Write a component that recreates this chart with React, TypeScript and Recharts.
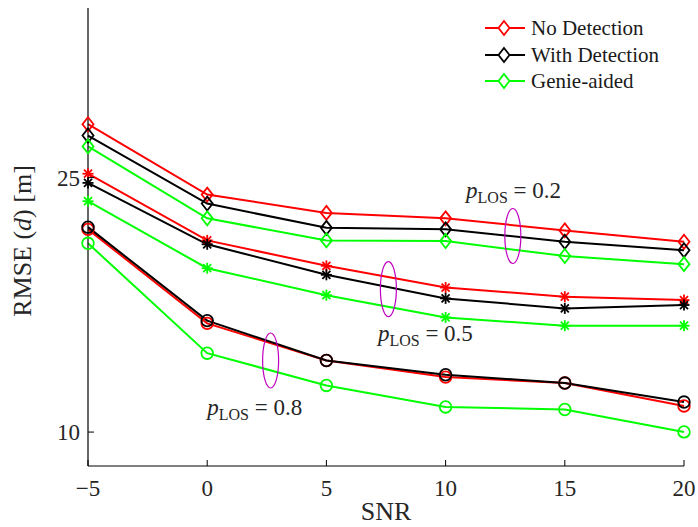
import React from 'react';
import { LineChart, Line, XAxis, YAxis, ReferenceDot } from 'recharts';

const snr = [-5, 0, 5, 10, 15, 20];

// p_LOS = 0.2 (diamonds)
const noDet02 = [28.15, 24.0, 22.92, 22.6, 21.89, 21.22];
const withDet02 = [27.48, 23.47, 22.04, 21.95, 21.22, 20.72];
const genie02 = [26.84, 22.6, 21.3, 21.26, 20.38, 19.9];

// p_LOS = 0.5 (stars)
const noDet05 = [25.23, 21.3, 19.8, 18.52, 17.98, 17.78];
const withDet05 = [24.69, 21.07, 19.27, 17.88, 17.29, 17.49];
const genie05 = [23.61, 19.66, 18.07, 16.76, 16.27, 16.27];

// p_LOS = 0.8 (circles)
const noDet08 = [21.95, 16.41, 14.22, 13.24, 12.89, 11.54];
const withDet08 = [22.08, 16.57, 14.22, 13.38, 12.89, 11.77];
const genie08 = [21.13, 14.65, 12.75, 11.48, 11.33, 10.01];

const xTicks = [-5, 0, 5, 10, 15, 20];
const yTicks = [10, 25];
const legendNames = ['No Detection', 'With Detection', 'Genie-aided'];

// annotation anchors, in data units
const ellipses = [
  { x: 12.82, y: 21.56 },
  { x: 7.6, y: 18.43 },
  { x: 2.66, y: 14.22 },
];
const pLabels = [
  { x: 10.86, y: 23.79, text: '0.2' },
  { x: 7.16, y: 15.39, text: '0.5' },
  { x: 0.0, y: 10.99, text: '0.8' },
];

const RED = '#ff0000';
const BLACK = '#000000';
const GREEN = '#00ff00';
const MAGENTA = '#c000c0';
const FONT = "'Liberation Serif', 'Times New Roman', 'DejaVu Serif', serif";

const data = snr.map((s, i) => ({
  snr: s,
  nd02: noDet02[i], wd02: withDet02[i], g02: genie02[i],
  nd05: noDet05[i], wd05: withDet05[i], g05: genie05[i],
  nd08: noDet08[i], wd08: withDet08[i], g08: genie08[i],
}));

const diamond = (color: string) => (p: any) => {
  const { cx, cy, index } = p;
  if (cx == null || cy == null) return <g key={index} />;
  return (
    <path key={index} d={`M${cx},${cy - 7} L${cx + 5.5},${cy} L${cx},${cy + 7} L${cx - 5.5},${cy} Z`}
      fill="none" stroke={color} strokeWidth={1.8} />
  );
};

const star = (color: string) => (p: any) => {
  const { cx, cy, index } = p;
  if (cx == null || cy == null) return <g key={index} />;
  const r = 5.5, d = 4;
  return (
    <g key={index} stroke={color} strokeWidth={1.8}>
      <line x1={cx - r} y1={cy} x2={cx + r} y2={cy} />
      <line x1={cx} y1={cy - r} x2={cx} y2={cy + r} />
      <line x1={cx - d} y1={cy - d} x2={cx + d} y2={cy + d} />
      <line x1={cx - d} y1={cy + d} x2={cx + d} y2={cy - d} />
    </g>
  );
};

const circle = (color: string) => (p: any) => {
  const { cx, cy, index } = p;
  if (cx == null || cy == null) return <g key={index} />;
  return <circle key={index} cx={cx} cy={cy} r={5.8} fill="none" stroke={color} strokeWidth={1.8} />;
};

const XTick = (p: any) => {
  const { x, y, payload } = p;
  const label = String(payload.value).replace('-', '\u2212');
  return (
    <g>
      <line x1={x} y1={y} x2={x} y2={y - 6} stroke="#000" strokeWidth={1} />
      <text x={x} y={y + 30} textAnchor="middle" fontFamily={FONT} fontSize={23} fill="#262626">{label}</text>
    </g>
  );
};

const YTick = (p: any) => {
  const { x, y, payload } = p;
  return (
    <g>
      <line x1={x} y1={y} x2={x + 6} y2={y} stroke="#000" strokeWidth={1} />
      <text x={x - 8} y={y + 8} textAnchor="end" fontFamily={FONT} fontSize={23} fill="#262626">{payload.value}</text>
    </g>
  );
};

const LegendBox = () => (
  <div style={{ position: 'absolute', left: 485, top: 15, fontFamily: FONT, fontSize: 21, color: '#1a1a1a' }}>
    {[RED, BLACK, GREEN].map((c, i) => (
      <div key={i} style={{ display: 'flex', alignItems: 'center', height: 26.5 }}>
        <svg width={46} height={20} style={{ display: 'block' }}>
          <line x1={0} y1={10} x2={40} y2={10} stroke={c} strokeWidth={2} />
          <path d="M19,3 L24.5,10 L19,17 L13.5,10 Z" fill="#fff" stroke={c} strokeWidth={1.8} />
        </svg>
        <span style={{ lineHeight: '26px' }}>{legendNames[i]}</span>
      </div>
    ))}
  </div>
);

const EllipseShape = (p: any) => (
  <ellipse cx={p.cx} cy={p.cy} rx={8} ry={27.5} fill="none" stroke={MAGENTA} strokeWidth={1.2} />
);

const pLabelShape = (txt: string) => (p: any) => (
  <text x={p.cx} y={p.cy} fontFamily={FONT} fontSize={23} fill="#262626">
    <tspan fontStyle="italic">p</tspan>
    <tspan fontSize={16} dy={5}>LOS</tspan>
    <tspan dy={-5}>{` = ${txt}`}</tspan>
  </text>
);

const series = [
  { key: 'nd02', color: RED, dot: diamond(RED) },
  { key: 'wd02', color: BLACK, dot: diamond(BLACK) },
  { key: 'g02', color: GREEN, dot: diamond(GREEN) },
  { key: 'nd05', color: RED, dot: star(RED) },
  { key: 'wd05', color: BLACK, dot: star(BLACK) },
  { key: 'g05', color: GREEN, dot: star(GREEN) },
  { key: 'nd08', color: RED, dot: circle(RED) },
  { key: 'wd08', color: BLACK, dot: circle(BLACK) },
  { key: 'g08', color: GREEN, dot: circle(GREEN) },
];

export default function App() {
  return (
    <div style={{ position: 'absolute', left: 0, top: 0, width: 698, height: 527, background: '#fff' }}>
      <LineChart width={698} height={527} data={data} margin={{ top: 8, right: 14, bottom: 21, left: 0 }}>
        <XAxis
          dataKey="snr"
          type="number"
          domain={[-5, 20]}
          ticks={xTicks}
          height={40}
          tickSize={0}
          tickMargin={0}
          tickLine={false}
          axisLine={{ stroke: '#000', strokeWidth: 1.2 }}
          tick={XTick}
          label={{
            content: () => (
              <text x={386} y={520} textAnchor="middle" fontFamily={FONT} fontSize={26} fill="#262626">SNR</text>
            ),
          }}
        />
        <YAxis
          type="number"
          domain={[8, 35]}
          ticks={yTicks}
          width={88}
          tickSize={0}
          tickMargin={0}
          tickLine={false}
          axisLine={{ stroke: '#000', strokeWidth: 1.2 }}
          tick={YTick}
          label={{
            content: () => (
              <text x={31} y={241} textAnchor="middle" transform="rotate(-90 31 241)" fontFamily={FONT} fontSize={26} fill="#262626">
                RMSE (<tspan fontStyle="italic">d</tspan>) [m]
              </text>
            ),
          }}
        />
        {series.map((s) => (
          <Line
            key={s.key}
            dataKey={s.key}
            stroke={s.color}
            strokeWidth={2}
            dot={s.dot}
            activeDot={false}
            legendType="none"
            isAnimationActive={false}
          />
        ))}
        {ellipses.map((e, i) => (
          <ReferenceDot key={`e${i}`} x={e.x} y={e.y} r={0} shape={EllipseShape} ifOverflow="visible" />
        ))}
        {pLabels.map((l, i) => (
          <ReferenceDot key={`l${i}`} x={l.x} y={l.y} r={0} shape={pLabelShape(l.text)} ifOverflow="visible" />
        ))}
      </LineChart>
      <LegendBox />
    </div>
  );
}
